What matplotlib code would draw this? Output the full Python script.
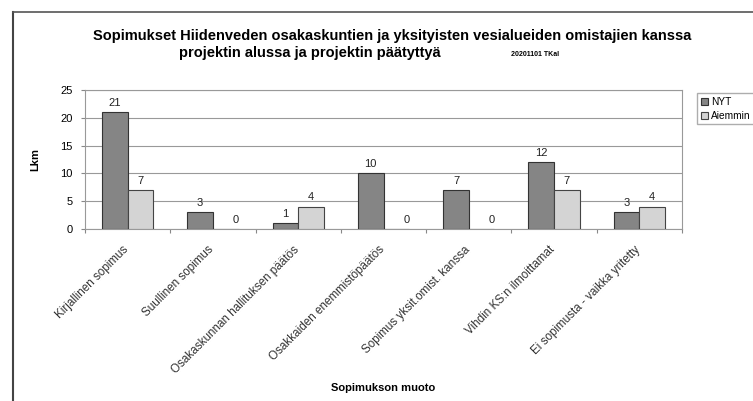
import matplotlib
matplotlib.use("Agg")
import matplotlib.pyplot as plt
import numpy as np
from matplotlib.lines import Line2D

categories = ["Kirjallinen sopimus", "Suullinen sopimus", "Osakaskunnan hallituksen päätös",
              "Osakkaiden enemmistöpäätös", "Sopimus yksit.omist. kanssa",
              "Vihdin KS:n ilmoittamat", "Ei sopimusta - vaikka yritetty"]
nyt = [21, 3, 1, 10, 7, 12, 3]
aiemmin = [7, 0, 4, 0, 0, 7, 4]
series_names = ["NYT", "Aiemmin"]
yticks = [0, 5, 10, 15, 20, 25]

plt.rcParams['font.family'] = ['Liberation Sans', 'DejaVu Sans']
fig = plt.figure(figsize=(7.53, 4.01), dpi=100)
W, H = 753, 401
ax = fig.add_axes([85 / W, 1 - 229 / H, (682 - 85) / W, (229 - 90) / H])

x = np.arange(len(categories))
bw = 0.3
ax.bar(x - bw / 2, nyt, bw, color="#858585", edgecolor="#333333", linewidth=0.8, label=series_names[0], zorder=3)
ax.bar(x + bw / 2, aiemmin, bw, color="#d4d4d4", edgecolor="#444444", linewidth=0.8, label=series_names[1], zorder=3)
for xi, v in zip(x, nyt):
    ax.text(xi - bw / 2, v + 0.8, str(v), ha="center", va="bottom", fontsize=8, color="#222222")
for xi, v in zip(x, aiemmin):
    ax.text(xi + bw / 2 + (0.12 if v == 0 else 0), v + 0.8, str(v), ha="center", va="bottom", fontsize=8, color="#222222")

ax.set_xlim(-0.5, len(categories) - 0.5)
ax.set_ylim(0, 25)
ax.set_yticks(yticks)
ax.set_yticklabels([str(t) for t in yticks], fontsize=8)
ax.yaxis.grid(True, color="#999999", linewidth=0.8, zorder=0)
ax.set_xticks(np.arange(len(categories) + 1) - 0.5, minor=False)
ax.set_xticklabels([])
ax.tick_params(axis="x", length=3, color="#888888")
ax.tick_params(axis="y", length=3, color="#888888", pad=6)
for xi, lab in zip(x, categories):
    ax.text(xi - 0.06, -2.6, lab, rotation=45, ha="right", va="top", rotation_mode="anchor",
            fontsize=8.4, color="#333333", transform=ax.transData)
for s in ax.spines.values():
    s.set_color("#999999")
    s.set_linewidth(0.8)

ax.set_ylabel("Lkm", fontsize=8, fontweight="bold", labelpad=14)
fig.text(383 / W, 1 - 388 / H, "Sopimukson muoto", ha="center", va="center", fontsize=8, fontweight="bold")

fig.text(392 / W, 1 - 36 / H, "Sopimukset Hiidenveden osakaskuntien ja yksityisten vesialueiden omistajien kanssa",
         ha="center", va="center", fontsize=10.5, fontweight="bold")
fig.text(310 / W, 1 - 53 / H, "projektin alussa ja projektin päätyttyä",
         ha="center", va="center", fontsize=10.5, fontweight="bold")
fig.text(535 / W, 1 - 54 / H, "20201101 TKal", ha="center", va="center", fontsize=5, fontweight="bold")

leg = fig.legend(loc="upper left", bbox_to_anchor=(692 / W, 1 - 88 / H), fontsize=7.3, frameon=True,
                 fancybox=False, edgecolor="#999999", handlelength=0.7, handleheight=0.7,
                 handletextpad=0.3, borderpad=0.35, labelspacing=0.4)

fig.add_artist(Line2D([13 / W, 13 / W], [0, 1 - 12 / H], transform=fig.transFigure, color="#444444", linewidth=1.5))
fig.add_artist(Line2D([13 / W, 1], [1 - 12 / H, 1 - 12 / H], transform=fig.transFigure, color="#555555", linewidth=1.2))

fig.savefig("out.png", dpi=100)
